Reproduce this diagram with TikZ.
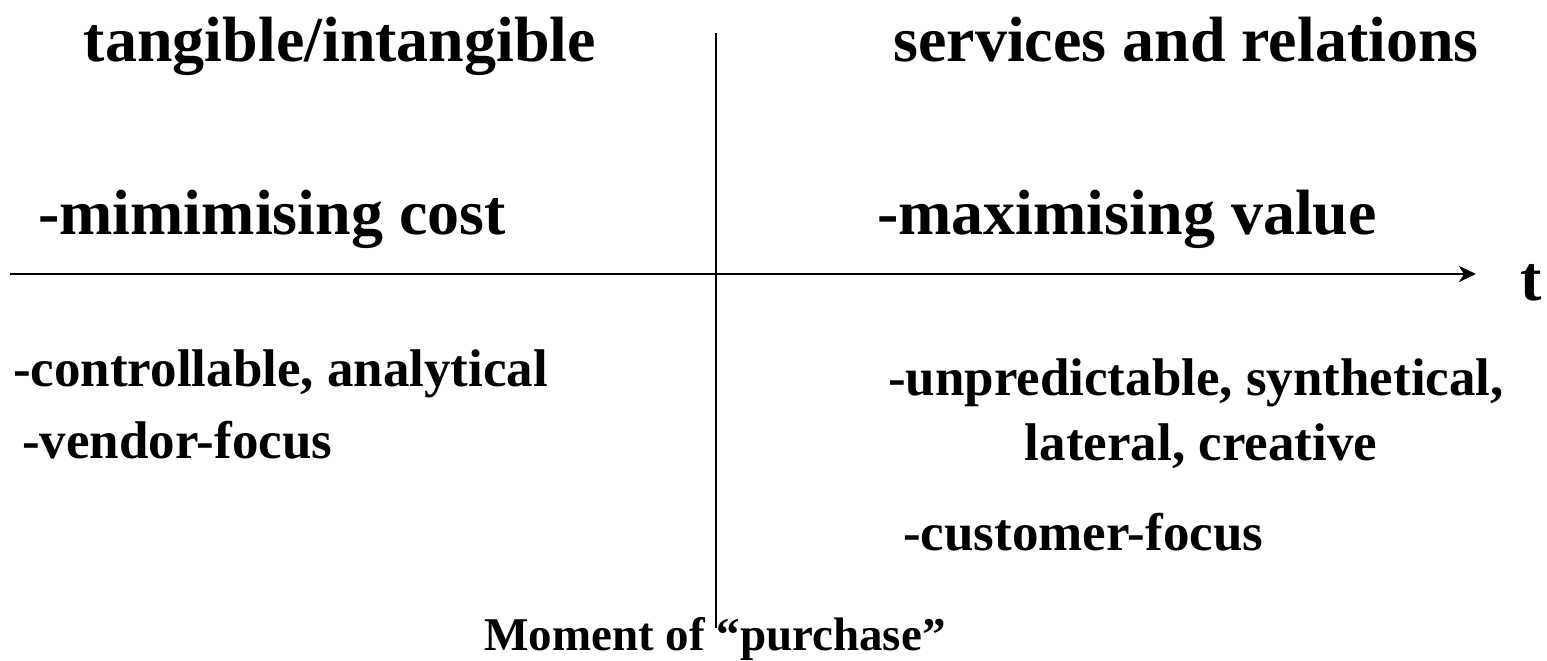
\documentclass[tikz,border=0pt]{standalone}
\usepackage{fontspec}
\setmainfont{Liberation Serif}
\usetikzlibrary{arrows.meta}
\begin{document}
\begin{tikzpicture}[x=1pt,y=-1pt,
  big/.style={inner sep=0pt,font=\bfseries\fontsize{64}{70}\selectfont},
  mid/.style={inner sep=0pt,font=\bfseries\fontsize{53}{64}\selectfont},
  small/.style={inner sep=0pt,font=\bfseries\fontsize{47}{54}\selectfont},
  axis/.style={line width=2.8pt}]
\useasboundingbox (0,0) rectangle (1547,661);
% axes
\coordinate (hstart) at (10,274);
\coordinate (hend) at (1476,274);
\coordinate (vtop) at (716,33);
\coordinate (vbot) at (716,628);
\draw[axis,-{Stealth[length=17pt,width=16pt,inset=5pt]}] (hstart) -- (hend);
\draw[axis] (vtop) -- (vbot);
% headings
\node[big,anchor=base] (tang) at (340,62) {tangible/intangible};
\node[big,anchor=base] (serv) at (1186,62) {services and relations};
\node[big,anchor=base west] (mincost) at (38,234) {-mimimising cost};
\node[big,anchor=base west] (maxval) at (877,234) {-maximising value};
\node[big,anchor=base] (t) at (1531,300) {t};
% left lower
\node[mid,anchor=base west] (contr) at (13,386) {-controllable, analytical};
\node[mid,anchor=base west] (vendor) at (22,458) {-vendor-focus};
% right lower
\node[mid,anchor=base] (unpred) at (1196,395) {-unpredictable, synthetical,};
\node[mid,anchor=base] (lateral) at (1201,460) {lateral, creative};
\node[mid,anchor=base west] (cust) at (903,550) {-customer-focus};
% bottom
\node[small,anchor=base] (moment) at (715,650) {Moment of “purchase”};
\end{tikzpicture}
\end{document}
